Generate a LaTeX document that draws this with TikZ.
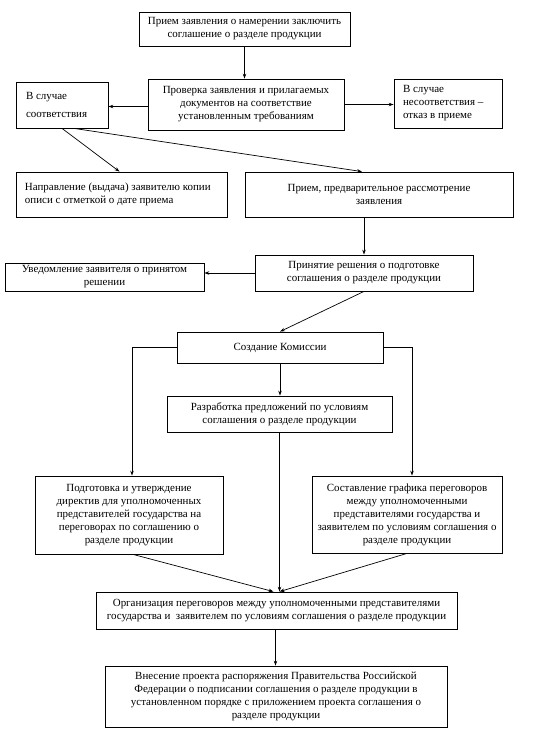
\documentclass[tikz,border=0pt]{standalone}
\usepackage{fontspec}
\setmainfont{Liberation Serif}
\usetikzlibrary{arrows.meta,calc}
\begin{document}
\begin{tikzpicture}[x=1bp,y=-1bp,
  box/.style={draw,line width=0.8pt,inner sep=2pt,align=center,font=\fontsize{11}{13}\selectfont},
  lbox/.style={box,align=flush left},
  arr/.style={line width=0.7pt,-{Stealth[length=5pt,width=3.5pt]}}]
\useasboundingbox (0,0) rectangle (551,734);
\node[box,minimum width=211bp,minimum height=34bp] (b1) at (244.5,29) {Прием заявления о намерении заключить\\соглашение о разделе продукции};
\node[box,minimum width=196bp,minimum height=51bp] (b2) at (246,104.5) {Проверка заявления и прилагаемых\\документов на соответствие\\установленным требованиям};
\node[lbox,minimum width=92bp,minimum height=46bp,text width=72bp] (byes) at (62,105) {В случае\\[6pt]соответствия\\[2pt]};
\node[lbox,minimum width=108bp,minimum height=49bp,text width=90bp] (bno) at (448,103.5) {В случае\\несоответствия –\\отказ в приеме};
\node[lbox,minimum width=211bp,minimum height=45bp,text width=193bp] (bcopy) at (121.5,194.5) {Направление (выдача) заявителю копии\\описи с отметкой о дате приема};
\node[box,minimum width=268bp,minimum height=45bp] (bprel) at (379,194.5) {Прием, предварительное рассмотрение\\заявления};
\node[box,minimum width=199bp,minimum height=28bp] (bnotif) at (104.5,277) {Уведомление заявителя о принятом\\решении};
\node[box,minimum width=218bp,minimum height=36bp] (bdec) at (364,273) {Принятие решения о подготовке\\соглашения о разделе продукции};
\node[box,minimum width=206bp,minimum height=31bp] (bcom) at (280,347.5) {Создание Комиссии};
\node[box,minimum width=225bp,minimum height=36bp] (bdev) at (279.5,414) {Разработка предложений по условиям\\соглашения о разделе продукции};
\node[box,minimum width=188bp,minimum height=78bp] (bdir) at (129,515) {Подготовка и утверждение\\директив для уполномоченных\\представителей государства на\\переговорах по соглашению о\\разделе продукции};
\node[box,minimum width=190bp,minimum height=77bp] (bsch) at (407,514.5) {Составление графика переговоров\\между уполномоченными\\представителями государства и\\заявителем по условиям соглашения о\\разделе продукции};
\node[box,minimum width=361bp,minimum height=37bp] (borg) at (276.5,610.5) {Организация переговоров между уполномоченными представителями\\государства и~ заявителем по условиям соглашения о разделе продукции};
\node[box,minimum width=342bp,minimum height=61bp] (bfin) at (276,696.5) {Внесение проекта распоряжения Правительства Российской\\Федерации о подписании соглашения о разделе продукции в\\установленном порядке с приложением проекта соглашения о\\разделе продукции};

\draw[arr] (b1.south) -- (b1.south |- b2.north);
\draw[arr] ([yshift=-2bp]b2.west) -- ([yshift=-2bp]b2.west -| byes.east);
\draw[arr] (b2.east) -- (b2.east -| bno.west);
\draw[arr] (byes.south) -- ([xshift=-2bp]bcopy.north);
\draw[arr] ([xshift=12bp]byes.south) -- ([xshift=-17bp]bprel.north);
\draw[arr] (bprel.south -| bdec.north) -- (bdec.north);
\draw[arr] (bdec.west) -- (bdec.west -| bnotif.east);
\draw[arr] (bdec.south) -- (bcom.north);
\draw[arr] (bcom.south) -- (bcom.south |- bdev.north);
\draw[arr] (bcom.west) -| ([xshift=3bp]bdir.north);
\draw[arr] (bcom.east) -| ([xshift=5bp]bsch.north);
\draw[arr] (bdev.south) -- (bdev.south |- borg.north);
\draw[arr] ([xshift=4bp]bdir.south) -- ([xshift=-3bp]borg.north);
\draw[arr] (bsch.south) -- ([xshift=3bp]borg.north);
\draw[arr] ([xshift=-1bp]borg.south) -- ([xshift=-1bp]borg.south |- bfin.north);
\end{tikzpicture}
\end{document}
